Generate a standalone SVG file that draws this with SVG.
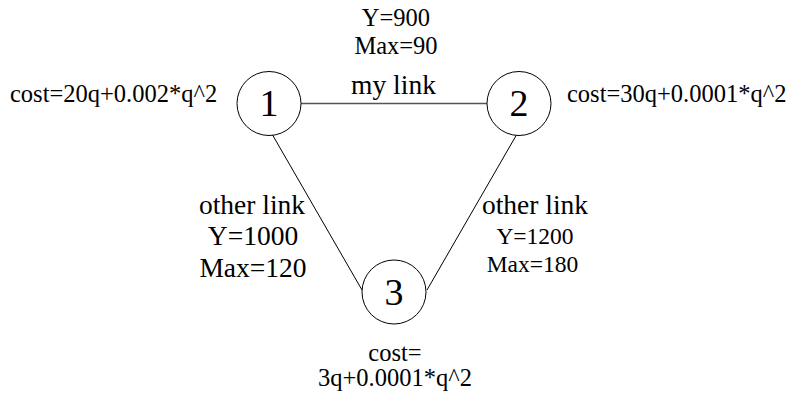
<svg xmlns="http://www.w3.org/2000/svg" width="792" height="396" viewBox="0 0 792 396">
  <style>
    text { font-family: "Liberation Serif", "Times New Roman", serif; fill: #000; }
    .lbl { font-size: 24.5px; }
    .big { font-size: 27.5px; }
    .sm { font-size: 23.5px; }
    .mid { text-anchor: middle; }
    .num { font-size: 38px; text-anchor: middle; }
    .node circle { fill: #fff; stroke: #000; stroke-width: 1; }
    .edge { stroke: #000; stroke-width: 1; fill: none; }
    .edge.main { stroke: #555; stroke-width: 1.5; }
  </style>
  <rect width="792" height="396" fill="#fff"/>

  <!-- links between the three nodes -->
  <g id="links">
    <line class="edge main" x1="301" y1="103.5" x2="487" y2="103.5"/>
    <line class="edge" x1="272" y1="134" x2="362" y2="290"/>
    <line class="edge" x1="517" y1="134" x2="427" y2="290"/>
  </g>

  <!-- link labels -->
  <g id="label-my-link">
    <text class="lbl mid" x="396" y="26">Y=900</text>
    <text class="lbl mid" x="396" y="54">Max=90</text>
    <text class="big mid" x="393.5" y="94">my link</text>
  </g>
  <g id="label-link-13">
    <text class="big mid" x="252" y="214">other link</text>
    <text class="big mid" x="253" y="245">Y=1000</text>
    <text class="big mid" x="253" y="277">Max=120</text>
  </g>
  <g id="label-link-23">
    <text class="big mid" x="535" y="214">other link</text>
    <text class="sm mid" x="535" y="244">Y=1200</text>
    <text class="sm mid" x="532.5" y="272">Max=180</text>
  </g>

  <!-- nodes -->
  <g id="node-1" class="node">
    <circle cx="269" cy="103.5" r="32"/>
    <text class="num" x="269" y="116">1</text>
  </g>
  <g id="node-2" class="node">
    <circle cx="519" cy="103.5" r="32"/>
    <text class="num" x="519" y="116">2</text>
  </g>
  <g id="node-3" class="node">
    <circle cx="394" cy="292" r="32"/>
    <text class="num" x="394" y="305">3</text>
  </g>

  <!-- node cost functions -->
  <g id="cost-1">
    <text class="lbl" x="10" y="102">cost=20q+0.002*q^2</text>
  </g>
  <g id="cost-2">
    <text class="lbl" x="567" y="102">cost=30q+0.0001*q^2</text>
  </g>
  <g id="cost-3">
    <text class="lbl mid" x="395" y="361">cost=</text>
    <text class="lbl mid" x="395" y="386">3q+0.0001*q^2</text>
  </g>
</svg>
